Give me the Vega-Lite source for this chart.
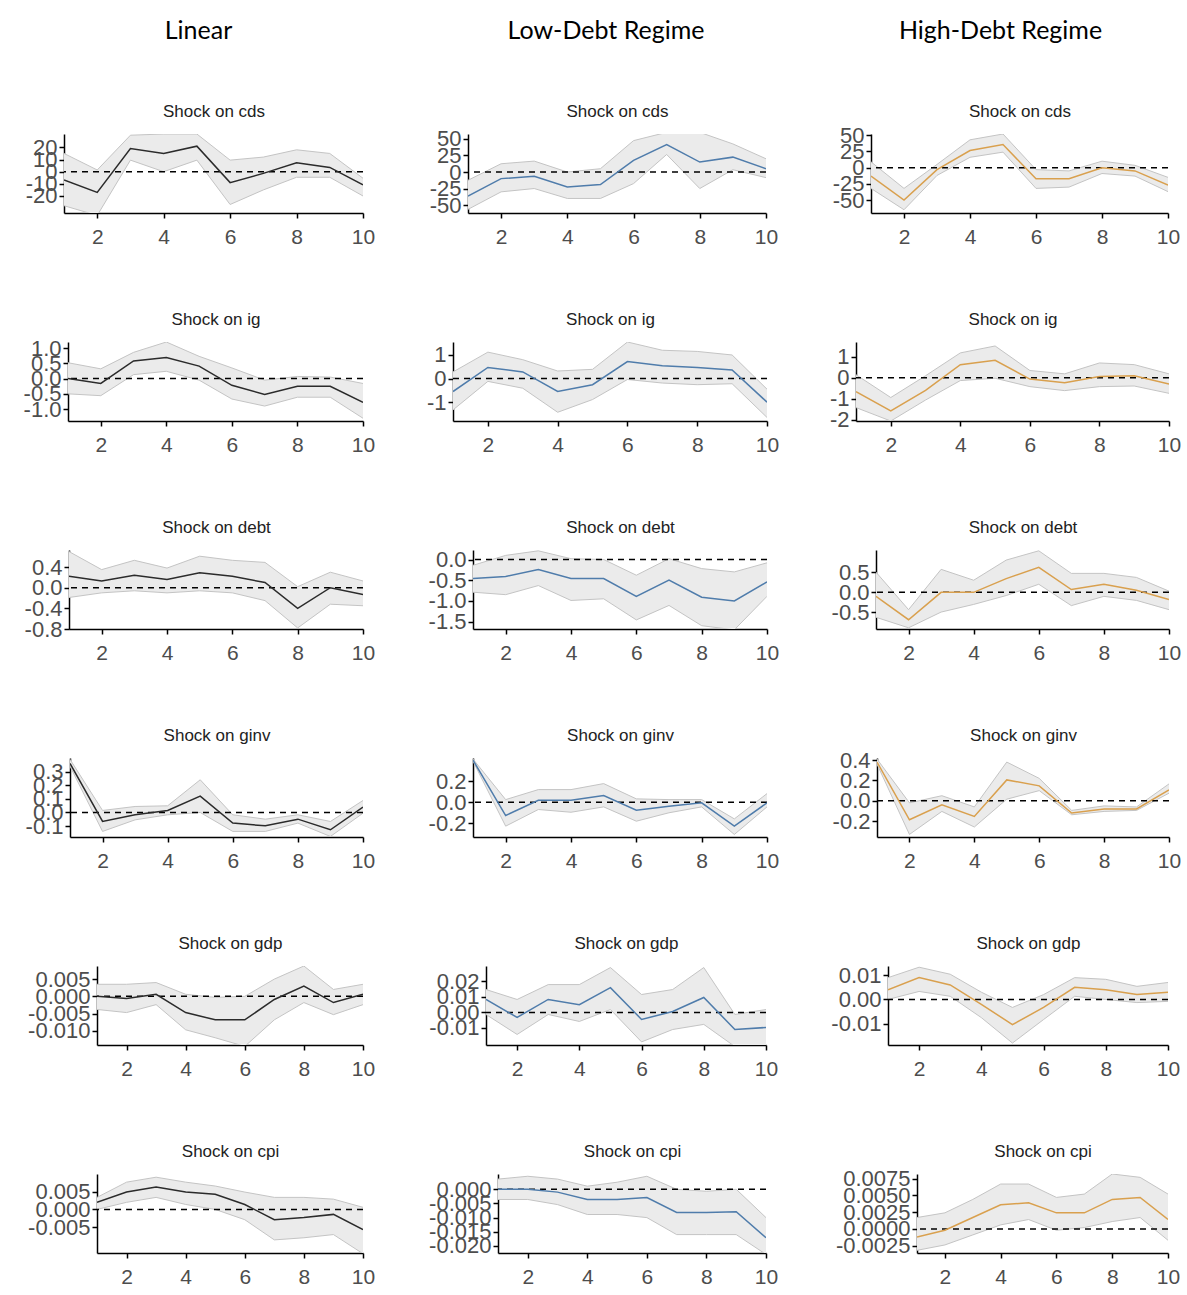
{
"$schema": "https://vega.github.io/schema/vega-lite/v6.json",
"padding": {"left": 0, "top": 19, "right": 5, "bottom": 5},
"background": "white",
"config": {
  "view": {"stroke": null},
  "locale": {"number": {"decimal": ".", "thousands": ",", "grouping": [3], "currency": ["$", ""], "minus": "-"}},
  "axis": {"grid": false, "domainColor": "#000", "domainWidth": 1.5, "tickColor": "#000", "tickWidth": 1.5, "tickSize": 5, "labelFont": "Liberation Sans", "labelColor": "#4d4d4d", "labelFlush": false, "labelBound": false, "labelOverlap": false, "titleFont": "Liberation Sans", "titleFontSize": 17, "titleFontWeight": "normal", "titleColor": "#222", "titlePadding": 14},
  "axisX": {"labelFontSize": 21, "labelPadding": 8},
  "axisY": {"labelFontSize": 22, "labelPadding": 2},
  "title": {"font": "Lato", "fontSize": 25, "fontWeight": "normal", "color": "#000", "anchor": "middle", "frame": "group", "offset": 58}
},
"data": {"values": [
{"p":"L1","h":1,"mid":-6.8,"hi":15,"lo":-28},{"p":"L1","h":2,"mid":-17,"hi":1.4,"lo":-36},{"p":"L1","h":3,"mid":19,"hi":30,"lo":9.5},{"p":"L1","h":4,"mid":15,"hi":31,"lo":0},{"p":"L1","h":5,"mid":21,"hi":31,"lo":9.5},{"p":"L1","h":6,"mid":-9,"hi":9.5,"lo":-27},{"p":"L1","h":7,"mid":-1.4,"hi":12,"lo":-15},{"p":"L1","h":8,"mid":7.3,"hi":18,"lo":-4.6},{"p":"L1","h":9,"mid":3.5,"hi":15,"lo":-4.6},{"p":"L1","h":10,"mid":-10.8,"hi":-5.4,"lo":-20},
{"p":"M1","h":1,"mid":-36.5,"hi":-12.5,"lo":-56.5},{"p":"M1","h":2,"mid":-10,"hi":12.5,"lo":-30},{"p":"M1","h":3,"mid":-6.5,"hi":16.5,"lo":-25},{"p":"M1","h":4,"mid":-22.5,"hi":0,"lo":-40},{"p":"M1","h":5,"mid":-19,"hi":5,"lo":-40},{"p":"M1","h":6,"mid":17.5,"hi":47.5,"lo":-17.5},{"p":"M1","h":7,"mid":41.5,"hi":60,"lo":26.5},{"p":"M1","h":8,"mid":15,"hi":60,"lo":-25},{"p":"M1","h":9,"mid":22.5,"hi":42.5,"lo":3.5},{"p":"M1","h":10,"mid":5,"hi":20,"lo":-8.5},
{"p":"H1","h":1,"mid":-13,"hi":9,"lo":-32},{"p":"H1","h":2,"mid":-50,"hi":-32,"lo":-65},{"p":"H1","h":3,"mid":-3,"hi":5,"lo":-12},{"p":"H1","h":4,"mid":26.5,"hi":43,"lo":16},{"p":"H1","h":5,"mid":35.7,"hi":52,"lo":24},{"p":"H1","h":6,"mid":-17,"hi":-3,"lo":-32},{"p":"H1","h":7,"mid":-17,"hi":-5,"lo":-30},{"p":"H1","h":8,"mid":0,"hi":10,"lo":-9},{"p":"H1","h":9,"mid":-5,"hi":3.6,"lo":-13},{"p":"H1","h":10,"mid":-27,"hi":-15,"lo":-37},
{"p":"L2","h":1,"mid":0,"hi":0.52,"lo":-0.5},{"p":"L2","h":2,"mid":-0.16,"hi":0.32,"lo":-0.56},{"p":"L2","h":3,"mid":0.58,"hi":0.86,"lo":0.13},{"p":"L2","h":4,"mid":0.69,"hi":1.2,"lo":0.24},{"p":"L2","h":5,"mid":0.41,"hi":0.73,"lo":-0.05},{"p":"L2","h":6,"mid":-0.22,"hi":0.35,"lo":-0.67},{"p":"L2","h":7,"mid":-0.52,"hi":-0.05,"lo":-0.9},{"p":"L2","h":8,"mid":-0.25,"hi":0.07,"lo":-0.61},{"p":"L2","h":9,"mid":-0.25,"hi":0.05,"lo":-0.61},{"p":"L2","h":10,"mid":-0.78,"hi":-0.16,"lo":-1.3},
{"p":"M2","h":1,"mid":-0.55,"hi":0.28,"lo":-1.33},{"p":"M2","h":2,"mid":0.47,"hi":1.12,"lo":-0.12},{"p":"M2","h":3,"mid":0.28,"hi":0.8,"lo":-0.41},{"p":"M2","h":4,"mid":-0.55,"hi":0.32,"lo":-1.43},{"p":"M2","h":5,"mid":-0.26,"hi":0.39,"lo":-0.89},{"p":"M2","h":6,"mid":0.72,"hi":1.55,"lo":-0.04},{"p":"M2","h":7,"mid":0.54,"hi":1.2,"lo":-0.19},{"p":"M2","h":8,"mid":0.47,"hi":1.15,"lo":-0.26},{"p":"M2","h":9,"mid":0.36,"hi":1.0,"lo":-0.22},{"p":"M2","h":10,"mid":-1.0,"hi":-0.45,"lo":-1.65},
{"p":"H2","h":1,"mid":-0.66,"hi":0.15,"lo":-1.42},{"p":"H2","h":2,"mid":-1.58,"hi":-0.94,"lo":-2.06},{"p":"H2","h":3,"mid":-0.6,"hi":0.1,"lo":-1.06},{"p":"H2","h":4,"mid":0.63,"hi":1.19,"lo":-0.13},{"p":"H2","h":5,"mid":0.84,"hi":1.52,"lo":-0.02},{"p":"H2","h":6,"mid":-0.06,"hi":0.35,"lo":-0.42},{"p":"H2","h":7,"mid":-0.23,"hi":0.19,"lo":-0.61},{"p":"H2","h":8,"mid":0.06,"hi":0.71,"lo":-0.42},{"p":"H2","h":9,"mid":0.1,"hi":0.63,"lo":-0.39},{"p":"H2","h":10,"mid":-0.29,"hi":0.19,"lo":-0.74},
{"p":"L3","h":1,"mid":0.22,"hi":0.7,"lo":-0.19},{"p":"L3","h":2,"mid":0.13,"hi":0.35,"lo":-0.1},{"p":"L3","h":3,"mid":0.24,"hi":0.53,"lo":-0.06},{"p":"L3","h":4,"mid":0.16,"hi":0.38,"lo":-0.1},{"p":"L3","h":5,"mid":0.29,"hi":0.61,"lo":-0.06},{"p":"L3","h":6,"mid":0.22,"hi":0.53,"lo":-0.1},{"p":"L3","h":7,"mid":0.1,"hi":0.49,"lo":-0.25},{"p":"L3","h":8,"mid":-0.4,"hi":0.02,"lo":-0.78},{"p":"L3","h":9,"mid":0,"hi":0.3,"lo":-0.32},{"p":"L3","h":10,"mid":-0.13,"hi":0.13,"lo":-0.35},
{"p":"M3","h":1,"mid":-0.46,"hi":-0.14,"lo":-0.79},{"p":"M3","h":2,"mid":-0.41,"hi":0.1,"lo":-0.85},{"p":"M3","h":3,"mid":-0.24,"hi":0.21,"lo":-0.63},{"p":"M3","h":4,"mid":-0.46,"hi":0.02,"lo":-0.99},{"p":"M3","h":5,"mid":-0.46,"hi":0,"lo":-0.95},{"p":"M3","h":6,"mid":-0.89,"hi":-0.38,"lo":-1.46},{"p":"M3","h":7,"mid":-0.5,"hi":0.02,"lo":-1.11},{"p":"M3","h":8,"mid":-0.91,"hi":-0.22,"lo":-1.6},{"p":"M3","h":9,"mid":-1.0,"hi":-0.3,"lo":-1.7},{"p":"M3","h":10,"mid":-0.54,"hi":-0.08,"lo":-0.89},
{"p":"H3","h":1,"mid":-0.1,"hi":0.5,"lo":-0.62},{"p":"H3","h":2,"mid":-0.68,"hi":-0.43,"lo":-0.88},{"p":"H3","h":3,"mid":0,"hi":0.57,"lo":-0.49},{"p":"H3","h":4,"mid":0,"hi":0.3,"lo":-0.3},{"p":"H3","h":5,"mid":0.34,"hi":0.8,"lo":-0.08},{"p":"H3","h":6,"mid":0.62,"hi":1.03,"lo":0.2},{"p":"H3","h":7,"mid":0.07,"hi":0.47,"lo":-0.33},{"p":"H3","h":8,"mid":0.2,"hi":0.47,"lo":-0.1},{"p":"H3","h":9,"mid":0.05,"hi":0.37,"lo":-0.2},{"p":"H3","h":10,"mid":-0.18,"hi":0.03,"lo":-0.43},
{"p":"L4","h":1,"mid":0.36,"hi":0.39,"lo":0.34},{"p":"L4","h":2,"mid":-0.066,"hi":0.015,"lo":-0.139},{"p":"L4","h":3,"mid":-0.017,"hi":0.044,"lo":-0.054},{"p":"L4","h":4,"mid":0.015,"hi":0.049,"lo":-0.017},{"p":"L4","h":5,"mid":0.12,"hi":0.24,"lo":0},{"p":"L4","h":6,"mid":-0.078,"hi":-0.017,"lo":-0.139},{"p":"L4","h":7,"mid":-0.098,"hi":-0.049,"lo":-0.139},{"p":"L4","h":8,"mid":-0.049,"hi":-0.017,"lo":-0.078},{"p":"L4","h":9,"mid":-0.127,"hi":-0.066,"lo":-0.176},{"p":"L4","h":10,"mid":0.039,"hi":0.088,"lo":-0.005},
{"p":"M4","h":1,"mid":0.4,"hi":0.41,"lo":0.39},{"p":"M4","h":2,"mid":-0.126,"hi":0.025,"lo":-0.227},{"p":"M4","h":3,"mid":0.019,"hi":0.12,"lo":-0.069},{"p":"M4","h":4,"mid":0.019,"hi":0.12,"lo":-0.095},{"p":"M4","h":5,"mid":0.063,"hi":0.177,"lo":-0.044},{"p":"M4","h":6,"mid":-0.076,"hi":0.032,"lo":-0.18},{"p":"M4","h":7,"mid":-0.038,"hi":0.025,"lo":-0.1},{"p":"M4","h":8,"mid":-0.006,"hi":0.025,"lo":-0.044},{"p":"M4","h":9,"mid":-0.227,"hi":-0.158,"lo":-0.306},{"p":"M4","h":10,"mid":-0.006,"hi":0.082,"lo":-0.044},
{"p":"H4","h":1,"mid":0.38,"hi":0.41,"lo":0.36},{"p":"H4","h":2,"mid":-0.186,"hi":-0.02,"lo":-0.33},{"p":"H4","h":3,"mid":-0.04,"hi":0.05,"lo":-0.104},{"p":"H4","h":4,"mid":-0.153,"hi":-0.06,"lo":-0.257},{"p":"H4","h":5,"mid":0.205,"hi":0.38,"lo":0.016},{"p":"H4","h":6,"mid":0.147,"hi":0.22,"lo":0.1},{"p":"H4","h":7,"mid":-0.12,"hi":-0.094,"lo":-0.137},{"p":"H4","h":8,"mid":-0.08,"hi":-0.05,"lo":-0.104},{"p":"H4","h":9,"mid":-0.08,"hi":-0.06,"lo":-0.094},{"p":"H4","h":10,"mid":0.107,"hi":0.166,"lo":0.075},
{"p":"L5","h":1,"mid":0,"hi":0.0035,"lo":-0.0038},{"p":"L5","h":2,"mid":-0.0006,"hi":0.0035,"lo":-0.0047},{"p":"L5","h":3,"mid":0.0006,"hi":0.004,"lo":-0.0024},{"p":"L5","h":4,"mid":-0.0047,"hi":0.0006,"lo":-0.0097},{"p":"L5","h":5,"mid":-0.0068,"hi":-0.0003,"lo":-0.012},{"p":"L5","h":6,"mid":-0.0068,"hi":0,"lo":-0.0145},{"p":"L5","h":7,"mid":-0.0009,"hi":0.005,"lo":-0.0068},{"p":"L5","h":8,"mid":0.003,"hi":0.0088,"lo":-0.0018},{"p":"L5","h":9,"mid":-0.0018,"hi":0.002,"lo":-0.0053},{"p":"L5","h":10,"mid":0.0006,"hi":0.0035,"lo":-0.0024},
{"p":"M5","h":1,"mid":0.0084,"hi":0.0148,"lo":-0.0013},{"p":"M5","h":2,"mid":-0.0032,"hi":0.0084,"lo":-0.0142},{"p":"M5","h":3,"mid":0.0084,"hi":0.018,"lo":-0.0013},{"p":"M5","h":4,"mid":0.005,"hi":0.018,"lo":-0.0058},{"p":"M5","h":5,"mid":0.016,"hi":0.029,"lo":0.0019},{"p":"M5","h":6,"mid":-0.0045,"hi":0.0116,"lo":-0.019},{"p":"M5","h":7,"mid":0.0006,"hi":0.0148,"lo":-0.011},{"p":"M5","h":8,"mid":0.0097,"hi":0.029,"lo":-0.0077},{"p":"M5","h":9,"mid":-0.011,"hi":-0.0013,"lo":-0.022},{"p":"M5","h":10,"mid":-0.0097,"hi":0.0019,"lo":-0.022},
{"p":"H5","h":1,"mid":0.004,"hi":0.009,"lo":0},{"p":"H5","h":2,"mid":0.009,"hi":0.0133,"lo":0.0033},{"p":"H5","h":3,"mid":0.006,"hi":0.0104,"lo":0.0013},{"p":"H5","h":4,"mid":-0.002,"hi":0.003,"lo":-0.0075},{"p":"H5","h":5,"mid":-0.0104,"hi":-0.0033,"lo":-0.018},{"p":"H5","h":6,"mid":-0.0033,"hi":0.002,"lo":-0.0083},{"p":"H5","h":7,"mid":0.005,"hi":0.009,"lo":0.0013},{"p":"H5","h":8,"mid":0.004,"hi":0.0083,"lo":0},{"p":"H5","h":9,"mid":0.002,"hi":0.0054,"lo":-0.0013},{"p":"H5","h":10,"mid":0.003,"hi":0.007,"lo":-0.0008},
{"p":"L6","h":1,"mid":0.002,"hi":0.0034,"lo":0},{"p":"L6","h":2,"mid":0.0049,"hi":0.0077,"lo":0.002},{"p":"L6","h":3,"mid":0.0063,"hi":0.0091,"lo":0.0034},{"p":"L6","h":4,"mid":0.0049,"hi":0.0077,"lo":0.0014},{"p":"L6","h":5,"mid":0.0043,"hi":0.0066,"lo":0},{"p":"L6","h":6,"mid":0.0014,"hi":0.0049,"lo":-0.0029},{"p":"L6","h":7,"mid":-0.0029,"hi":0.0034,"lo":-0.0086},{"p":"L6","h":8,"mid":-0.0023,"hi":0.0034,"lo":-0.008},{"p":"L6","h":9,"mid":-0.0014,"hi":0.0029,"lo":-0.0071},{"p":"L6","h":10,"mid":-0.0057,"hi":0.0006,"lo":-0.0125},
{"p":"M6","h":1,"mid":0,"hi":0.0036,"lo":-0.0036},{"p":"M6","h":2,"mid":0,"hi":0.0046,"lo":-0.0036},{"p":"M6","h":3,"mid":-0.001,"hi":0.0036,"lo":-0.0054},{"p":"M6","h":4,"mid":-0.0036,"hi":0.0011,"lo":-0.0089},{"p":"M6","h":5,"mid":-0.0036,"hi":0.0025,"lo":-0.0089},{"p":"M6","h":6,"mid":-0.0029,"hi":0.0046,"lo":-0.01},{"p":"M6","h":7,"mid":-0.0082,"hi":0,"lo":-0.016},{"p":"M6","h":8,"mid":-0.0082,"hi":-0.0007,"lo":-0.016},{"p":"M6","h":9,"mid":-0.0079,"hi":0,"lo":-0.016},{"p":"M6","h":10,"mid":-0.0171,"hi":-0.01,"lo":-0.023},
{"p":"H6","h":1,"mid":-0.0012,"hi":0.0017,"lo":-0.0032},{"p":"H6","h":2,"mid":-0.0002,"hi":0.0024,"lo":-0.0024},{"p":"H6","h":3,"mid":0.0017,"hi":0.0044,"lo":-0.0009},{"p":"H6","h":4,"mid":0.0036,"hi":0.0067,"lo":0.0006},{"p":"H6","h":5,"mid":0.0039,"hi":0.0067,"lo":0.0014},{"p":"H6","h":6,"mid":0.0024,"hi":0.0047,"lo":-0.0002},{"p":"H6","h":7,"mid":0.0024,"hi":0.0052,"lo":0.0002},{"p":"H6","h":8,"mid":0.0044,"hi":0.0082,"lo":0.0011},{"p":"H6","h":9,"mid":0.0047,"hi":0.0077,"lo":0.0017},{"p":"H6","h":10,"mid":0.0014,"hi":0.0052,"lo":-0.0017}
]},
"spacing": 63,
"vconcat": [
{"spacing": 0, "hconcat": [
 {"width": 1, "height": 10, "data": {"values": []}, "mark": {"type": "point", "opacity": 0}, "encoding": {}},
 {"title": {"text": "Linear", "dx": -15}, "width": 299, "height": 79, "transform": [{"filter": "datum.p === 'L1'"}], "resolve": {"axis": {"x": "independent", "y": "independent"}}, "layer": [
  {"mark": {"type": "area", "color": "#ebebeb", "clip": true}, "encoding": {"x": {"field": "h", "type": "quantitative", "title": null, "scale": {"domain": [1, 10], "nice": false, "zero": false}, "axis": {"values": [2, 4, 6, 8, 10]}}, "y": {"field": "lo", "type": "quantitative", "title": null, "scale": {"domain": [-34, 31], "nice": false, "zero": false}, "axis": {"orient": "left", "values": [-20, 0, 20], "format": "d", "labelOverlap": false, "minExtent": 63, "maxExtent": 63}}, "y2": {"field": "hi"}}},
  {"mark": {"type": "line", "color": "#c4c4c4", "strokeWidth": 1, "clip": true}, "encoding": {"x": {"field": "h", "type": "quantitative", "axis": null}, "y": {"field": "hi", "type": "quantitative", "title": null, "axis": {"orient": "left", "values": [-10, 10], "format": "d", "domain": false, "labelOverlap": false, "minExtent": 63, "maxExtent": 63}}}},
  {"mark": {"type": "line", "color": "#c4c4c4", "strokeWidth": 1, "clip": true}, "encoding": {"x": {"field": "h", "type": "quantitative", "axis": null}, "y": {"field": "lo", "type": "quantitative", "axis": null}}},
  {"transform": [{"filter": "datum.h === 1"}], "mark": {"type": "rule", "color": "#000", "strokeDash": [6, 5], "strokeWidth": 1.5}, "encoding": {"y": {"datum": 0, "axis": null}}},
  {"mark": {"type": "line", "color": "#2b2b2b", "strokeWidth": 1.5, "clip": true}, "encoding": {"x": {"field": "h", "type": "quantitative", "axis": {"orient": "top", "domain": false, "ticks": false, "labels": false, "title": "Shock on cds", "minExtent": 0, "maxExtent": 0}}, "y": {"field": "mid", "type": "quantitative", "axis": null}}}
 ]},
 {"title": {"text": "Low-Debt Regime", "dx": -11}, "width": 298, "height": 79, "transform": [{"filter": "datum.p === 'M1'"}], "resolve": {"axis": {"x": "independent", "y": "independent"}}, "layer": [
  {"mark": {"type": "area", "color": "#ebebeb", "clip": true}, "encoding": {"x": {"field": "h", "type": "quantitative", "title": null, "scale": {"domain": [1, 10], "nice": false, "zero": false}, "axis": {"values": [2, 4, 6, 8, 10]}}, "y": {"field": "lo", "type": "quantitative", "title": null, "scale": {"domain": [-62, 57.5], "nice": false, "zero": false}, "axis": {"orient": "left", "values": [-50, 0, 50], "format": "d", "labelOverlap": false, "minExtent": 93, "maxExtent": 93}}, "y2": {"field": "hi"}}},
  {"mark": {"type": "line", "color": "#c4c4c4", "strokeWidth": 1, "clip": true}, "encoding": {"x": {"field": "h", "type": "quantitative", "axis": null}, "y": {"field": "hi", "type": "quantitative", "title": null, "axis": {"orient": "left", "values": [-25, 25], "format": "d", "domain": false, "labelOverlap": false, "minExtent": 93, "maxExtent": 93}}}},
  {"mark": {"type": "line", "color": "#c4c4c4", "strokeWidth": 1, "clip": true}, "encoding": {"x": {"field": "h", "type": "quantitative", "axis": null}, "y": {"field": "lo", "type": "quantitative", "axis": null}}},
  {"transform": [{"filter": "datum.h === 1"}], "mark": {"type": "rule", "color": "#000", "strokeDash": [6, 5], "strokeWidth": 1.5}, "encoding": {"y": {"datum": 0, "axis": null}}},
  {"mark": {"type": "line", "color": "#4f7cab", "strokeWidth": 1.5, "clip": true}, "encoding": {"x": {"field": "h", "type": "quantitative", "axis": {"orient": "top", "domain": false, "ticks": false, "labels": false, "title": "Shock on cds", "minExtent": 0, "maxExtent": 0}}, "y": {"field": "mid", "type": "quantitative", "axis": null}}}
 ]},
 {"title": {"text": "High-Debt Regime", "dx": -19}, "width": 297, "height": 79, "transform": [{"filter": "datum.p === 'H1'"}], "resolve": {"axis": {"x": "independent", "y": "independent"}}, "layer": [
  {"mark": {"type": "area", "color": "#ebebeb", "clip": true}, "encoding": {"x": {"field": "h", "type": "quantitative", "title": null, "scale": {"domain": [1, 10], "nice": false, "zero": false}, "axis": {"values": [2, 4, 6, 8, 10]}}, "y": {"field": "lo", "type": "quantitative", "title": null, "scale": {"domain": [-70, 52], "nice": false, "zero": false}, "axis": {"orient": "left", "values": [-50, 0, 50], "format": "d", "labelOverlap": false, "minExtent": 93, "maxExtent": 93}}, "y2": {"field": "hi"}}},
  {"mark": {"type": "line", "color": "#c4c4c4", "strokeWidth": 1, "clip": true}, "encoding": {"x": {"field": "h", "type": "quantitative", "axis": null}, "y": {"field": "hi", "type": "quantitative", "title": null, "axis": {"orient": "left", "values": [-25, 25], "format": "d", "domain": false, "labelOverlap": false, "minExtent": 93, "maxExtent": 93}}}},
  {"mark": {"type": "line", "color": "#c4c4c4", "strokeWidth": 1, "clip": true}, "encoding": {"x": {"field": "h", "type": "quantitative", "axis": null}, "y": {"field": "lo", "type": "quantitative", "axis": null}}},
  {"transform": [{"filter": "datum.h === 1"}], "mark": {"type": "rule", "color": "#000", "strokeDash": [6, 5], "strokeWidth": 1.5}, "encoding": {"y": {"datum": 0, "axis": null}}},
  {"mark": {"type": "line", "color": "#d9a04e", "strokeWidth": 1.5, "clip": true}, "encoding": {"x": {"field": "h", "type": "quantitative", "axis": {"orient": "top", "domain": false, "ticks": false, "labels": false, "title": "Shock on cds", "minExtent": 0, "maxExtent": 0}}, "y": {"field": "mid", "type": "quantitative", "axis": null}}}
 ]}
]},
{"spacing": 0, "hconcat": [
 {"width": 1, "height": 10, "data": {"values": []}, "mark": {"type": "point", "opacity": 0}, "encoding": {}},
 {"width": 295, "height": 79, "transform": [{"filter": "datum.p === 'L2'"}], "resolve": {"axis": {"x": "independent", "y": "independent"}}, "layer": [
  {"mark": {"type": "area", "color": "#ebebeb", "clip": true}, "encoding": {"x": {"field": "h", "type": "quantitative", "title": null, "scale": {"domain": [1, 10], "nice": false, "zero": false}, "axis": {"values": [2, 4, 6, 8, 10]}}, "y": {"field": "lo", "type": "quantitative", "title": null, "scale": {"domain": [-1.39, 1.2], "nice": false, "zero": false}, "axis": {"orient": "left", "values": [-1, 0, 1], "format": ".1f", "labelOverlap": false, "minExtent": 67, "maxExtent": 67}}, "y2": {"field": "hi"}}},
  {"mark": {"type": "line", "color": "#c4c4c4", "strokeWidth": 1, "clip": true}, "encoding": {"x": {"field": "h", "type": "quantitative", "axis": null}, "y": {"field": "hi", "type": "quantitative", "title": null, "axis": {"orient": "left", "values": [-0.5, 0.5], "format": ".1f", "domain": false, "labelOverlap": false, "minExtent": 67, "maxExtent": 67}}}},
  {"mark": {"type": "line", "color": "#c4c4c4", "strokeWidth": 1, "clip": true}, "encoding": {"x": {"field": "h", "type": "quantitative", "axis": null}, "y": {"field": "lo", "type": "quantitative", "axis": null}}},
  {"transform": [{"filter": "datum.h === 1"}], "mark": {"type": "rule", "color": "#000", "strokeDash": [6, 5], "strokeWidth": 1.5}, "encoding": {"y": {"datum": 0, "axis": null}}},
  {"mark": {"type": "line", "color": "#2b2b2b", "strokeWidth": 1.5, "clip": true}, "encoding": {"x": {"field": "h", "type": "quantitative", "axis": {"orient": "top", "domain": false, "ticks": false, "labels": false, "title": "Shock on ig", "minExtent": 0, "maxExtent": 0}}, "y": {"field": "mid", "type": "quantitative", "axis": null}}}
 ]},
 {"width": 314, "height": 79, "transform": [{"filter": "datum.p === 'M2'"}], "resolve": {"axis": {"x": "independent", "y": "independent"}}, "layer": [
  {"mark": {"type": "area", "color": "#ebebeb", "clip": true}, "encoding": {"x": {"field": "h", "type": "quantitative", "title": null, "scale": {"domain": [1, 10], "nice": false, "zero": false}, "axis": {"values": [2, 4, 6, 8, 10]}}, "y": {"field": "lo", "type": "quantitative", "title": null, "scale": {"domain": [-1.8, 1.55], "nice": false, "zero": false}, "axis": {"orient": "left", "values": [-1, 1], "format": "d", "labelOverlap": false, "minExtent": 78, "maxExtent": 78}}, "y2": {"field": "hi"}}},
  {"mark": {"type": "line", "color": "#c4c4c4", "strokeWidth": 1, "clip": true}, "encoding": {"x": {"field": "h", "type": "quantitative", "axis": null}, "y": {"field": "hi", "type": "quantitative", "title": null, "axis": {"orient": "left", "values": [0], "format": "d", "domain": false, "labelOverlap": false, "minExtent": 78, "maxExtent": 78}}}},
  {"mark": {"type": "line", "color": "#c4c4c4", "strokeWidth": 1, "clip": true}, "encoding": {"x": {"field": "h", "type": "quantitative", "axis": null}, "y": {"field": "lo", "type": "quantitative", "axis": null}}},
  {"transform": [{"filter": "datum.h === 1"}], "mark": {"type": "rule", "color": "#000", "strokeDash": [6, 5], "strokeWidth": 1.5}, "encoding": {"y": {"datum": 0, "axis": null}}},
  {"mark": {"type": "line", "color": "#4f7cab", "strokeWidth": 1.5, "clip": true}, "encoding": {"x": {"field": "h", "type": "quantitative", "axis": {"orient": "top", "domain": false, "ticks": false, "labels": false, "title": "Shock on ig", "minExtent": 0, "maxExtent": 0}}, "y": {"field": "mid", "type": "quantitative", "axis": null}}}
 ]},
 {"width": 313, "height": 79, "transform": [{"filter": "datum.p === 'H2'"}], "resolve": {"axis": {"x": "independent", "y": "independent"}}, "layer": [
  {"mark": {"type": "area", "color": "#ebebeb", "clip": true}, "encoding": {"x": {"field": "h", "type": "quantitative", "title": null, "scale": {"domain": [1, 10], "nice": false, "zero": false}, "axis": {"values": [2, 4, 6, 8, 10]}}, "y": {"field": "lo", "type": "quantitative", "title": null, "scale": {"domain": [-2.06, 1.71], "nice": false, "zero": false}, "axis": {"orient": "left", "values": [-2, 0], "format": "d", "labelOverlap": false, "minExtent": 77, "maxExtent": 77}}, "y2": {"field": "hi"}}},
  {"mark": {"type": "line", "color": "#c4c4c4", "strokeWidth": 1, "clip": true}, "encoding": {"x": {"field": "h", "type": "quantitative", "axis": null}, "y": {"field": "hi", "type": "quantitative", "title": null, "axis": {"orient": "left", "values": [-1, 1], "format": "d", "domain": false, "labelOverlap": false, "minExtent": 77, "maxExtent": 77}}}},
  {"mark": {"type": "line", "color": "#c4c4c4", "strokeWidth": 1, "clip": true}, "encoding": {"x": {"field": "h", "type": "quantitative", "axis": null}, "y": {"field": "lo", "type": "quantitative", "axis": null}}},
  {"transform": [{"filter": "datum.h === 1"}], "mark": {"type": "rule", "color": "#000", "strokeDash": [6, 5], "strokeWidth": 1.5}, "encoding": {"y": {"datum": 0, "axis": null}}},
  {"mark": {"type": "line", "color": "#d9a04e", "strokeWidth": 1.5, "clip": true}, "encoding": {"x": {"field": "h", "type": "quantitative", "axis": {"orient": "top", "domain": false, "ticks": false, "labels": false, "title": "Shock on ig", "minExtent": 0, "maxExtent": 0}}, "y": {"field": "mid", "type": "quantitative", "axis": null}}}
 ]}
]},
{"spacing": 0, "hconcat": [
 {"width": 1, "height": 10, "data": {"values": []}, "mark": {"type": "point", "opacity": 0}, "encoding": {}},
 {"width": 294, "height": 79, "transform": [{"filter": "datum.p === 'L3'"}], "resolve": {"axis": {"x": "independent", "y": "independent"}}, "layer": [
  {"mark": {"type": "area", "color": "#ebebeb", "clip": true}, "encoding": {"x": {"field": "h", "type": "quantitative", "title": null, "scale": {"domain": [1, 10], "nice": false, "zero": false}, "axis": {"values": [2, 4, 6, 8, 10]}}, "y": {"field": "lo", "type": "quantitative", "title": null, "scale": {"domain": [-0.8, 0.73], "nice": false, "zero": false}, "axis": {"orient": "left", "values": [-0.8, 0], "format": ".1f", "labelOverlap": false, "minExtent": 68, "maxExtent": 68}}, "y2": {"field": "hi"}}},
  {"mark": {"type": "line", "color": "#c4c4c4", "strokeWidth": 1, "clip": true}, "encoding": {"x": {"field": "h", "type": "quantitative", "axis": null}, "y": {"field": "hi", "type": "quantitative", "title": null, "axis": {"orient": "left", "values": [-0.4, 0.4], "format": ".1f", "domain": false, "labelOverlap": false, "minExtent": 68, "maxExtent": 68}}}},
  {"mark": {"type": "line", "color": "#c4c4c4", "strokeWidth": 1, "clip": true}, "encoding": {"x": {"field": "h", "type": "quantitative", "axis": null}, "y": {"field": "lo", "type": "quantitative", "axis": null}}},
  {"transform": [{"filter": "datum.h === 1"}], "mark": {"type": "rule", "color": "#000", "strokeDash": [6, 5], "strokeWidth": 1.5}, "encoding": {"y": {"datum": 0, "axis": null}}},
  {"mark": {"type": "line", "color": "#2b2b2b", "strokeWidth": 1.5, "clip": true}, "encoding": {"x": {"field": "h", "type": "quantitative", "axis": {"orient": "top", "domain": false, "ticks": false, "labels": false, "title": "Shock on debt", "minExtent": 0, "maxExtent": 0}}, "y": {"field": "mid", "type": "quantitative", "axis": null}}}
 ]},
 {"width": 294, "height": 79, "transform": [{"filter": "datum.p === 'M3'"}], "resolve": {"axis": {"x": "independent", "y": "independent"}}, "layer": [
  {"mark": {"type": "area", "color": "#ebebeb", "clip": true}, "encoding": {"x": {"field": "h", "type": "quantitative", "title": null, "scale": {"domain": [1, 10], "nice": false, "zero": false}, "axis": {"values": [2, 4, 6, 8, 10]}}, "y": {"field": "lo", "type": "quantitative", "title": null, "scale": {"domain": [-1.68, 0.23], "nice": false, "zero": false}, "axis": {"orient": "left", "values": [-1.5, -0.5], "format": ".1f", "labelOverlap": false, "minExtent": 98, "maxExtent": 98}}, "y2": {"field": "hi"}}},
  {"mark": {"type": "line", "color": "#c4c4c4", "strokeWidth": 1, "clip": true}, "encoding": {"x": {"field": "h", "type": "quantitative", "axis": null}, "y": {"field": "hi", "type": "quantitative", "title": null, "axis": {"orient": "left", "values": [-1, 0], "format": ".1f", "domain": false, "labelOverlap": false, "minExtent": 98, "maxExtent": 98}}}},
  {"mark": {"type": "line", "color": "#c4c4c4", "strokeWidth": 1, "clip": true}, "encoding": {"x": {"field": "h", "type": "quantitative", "axis": null}, "y": {"field": "lo", "type": "quantitative", "axis": null}}},
  {"transform": [{"filter": "datum.h === 1"}], "mark": {"type": "rule", "color": "#000", "strokeDash": [6, 5], "strokeWidth": 1.5}, "encoding": {"y": {"datum": 0, "axis": null}}},
  {"mark": {"type": "line", "color": "#4f7cab", "strokeWidth": 1.5, "clip": true}, "encoding": {"x": {"field": "h", "type": "quantitative", "axis": {"orient": "top", "domain": false, "ticks": false, "labels": false, "title": "Shock on debt", "minExtent": 0, "maxExtent": 0}}, "y": {"field": "mid", "type": "quantitative", "axis": null}}}
 ]},
 {"width": 293, "height": 79, "transform": [{"filter": "datum.p === 'H3'"}], "resolve": {"axis": {"x": "independent", "y": "independent"}}, "layer": [
  {"mark": {"type": "area", "color": "#ebebeb", "clip": true}, "encoding": {"x": {"field": "h", "type": "quantitative", "title": null, "scale": {"domain": [1, 10], "nice": false, "zero": false}, "axis": {"values": [2, 4, 6, 8, 10]}}, "y": {"field": "lo", "type": "quantitative", "title": null, "scale": {"domain": [-0.91, 1.05], "nice": false, "zero": false}, "axis": {"orient": "left", "values": [-0.5, 0.5], "format": ".1f", "labelOverlap": false, "minExtent": 97, "maxExtent": 97}}, "y2": {"field": "hi"}}},
  {"mark": {"type": "line", "color": "#c4c4c4", "strokeWidth": 1, "clip": true}, "encoding": {"x": {"field": "h", "type": "quantitative", "axis": null}, "y": {"field": "hi", "type": "quantitative", "title": null, "axis": {"orient": "left", "values": [0], "format": ".1f", "domain": false, "labelOverlap": false, "minExtent": 97, "maxExtent": 97}}}},
  {"mark": {"type": "line", "color": "#c4c4c4", "strokeWidth": 1, "clip": true}, "encoding": {"x": {"field": "h", "type": "quantitative", "axis": null}, "y": {"field": "lo", "type": "quantitative", "axis": null}}},
  {"transform": [{"filter": "datum.h === 1"}], "mark": {"type": "rule", "color": "#000", "strokeDash": [6, 5], "strokeWidth": 1.5}, "encoding": {"y": {"datum": 0, "axis": null}}},
  {"mark": {"type": "line", "color": "#d9a04e", "strokeWidth": 1.5, "clip": true}, "encoding": {"x": {"field": "h", "type": "quantitative", "axis": {"orient": "top", "domain": false, "ticks": false, "labels": false, "title": "Shock on debt", "minExtent": 0, "maxExtent": 0}}, "y": {"field": "mid", "type": "quantitative", "axis": null}}}
 ]}
]},
{"spacing": 0, "hconcat": [
 {"width": 1, "height": 10, "data": {"values": []}, "mark": {"type": "point", "opacity": 0}, "encoding": {}},
 {"width": 293, "height": 79, "transform": [{"filter": "datum.p === 'L4'"}], "resolve": {"axis": {"x": "independent", "y": "independent"}}, "layer": [
  {"mark": {"type": "area", "color": "#ebebeb", "clip": true}, "encoding": {"x": {"field": "h", "type": "quantitative", "title": null, "scale": {"domain": [1, 10], "nice": false, "zero": false}, "axis": {"values": [2, 4, 6, 8, 10]}}, "y": {"field": "lo", "type": "quantitative", "title": null, "scale": {"domain": [-0.18, 0.4], "nice": false, "zero": false}, "axis": {"orient": "left", "values": [-0.1, 0.1, 0.3], "format": ".1f", "labelOverlap": false, "minExtent": 69, "maxExtent": 69}}, "y2": {"field": "hi"}}},
  {"mark": {"type": "line", "color": "#c4c4c4", "strokeWidth": 1, "clip": true}, "encoding": {"x": {"field": "h", "type": "quantitative", "axis": null}, "y": {"field": "hi", "type": "quantitative", "title": null, "axis": {"orient": "left", "values": [0, 0.2], "format": ".1f", "domain": false, "labelOverlap": false, "minExtent": 69, "maxExtent": 69}}}},
  {"mark": {"type": "line", "color": "#c4c4c4", "strokeWidth": 1, "clip": true}, "encoding": {"x": {"field": "h", "type": "quantitative", "axis": null}, "y": {"field": "lo", "type": "quantitative", "axis": null}}},
  {"transform": [{"filter": "datum.h === 1"}], "mark": {"type": "rule", "color": "#000", "strokeDash": [6, 5], "strokeWidth": 1.5}, "encoding": {"y": {"datum": 0, "axis": null}}},
  {"mark": {"type": "line", "color": "#2b2b2b", "strokeWidth": 1.5, "clip": true}, "encoding": {"x": {"field": "h", "type": "quantitative", "axis": {"orient": "top", "domain": false, "ticks": false, "labels": false, "title": "Shock on ginv", "minExtent": 0, "maxExtent": 0}}, "y": {"field": "mid", "type": "quantitative", "axis": null}}}
 ]},
 {"width": 294, "height": 79, "transform": [{"filter": "datum.p === 'M4'"}], "resolve": {"axis": {"x": "independent", "y": "independent"}}, "layer": [
  {"mark": {"type": "area", "color": "#ebebeb", "clip": true}, "encoding": {"x": {"field": "h", "type": "quantitative", "title": null, "scale": {"domain": [1, 10], "nice": false, "zero": false}, "axis": {"values": [2, 4, 6, 8, 10]}}, "y": {"field": "lo", "type": "quantitative", "title": null, "scale": {"domain": [-0.33, 0.42], "nice": false, "zero": false}, "axis": {"orient": "left", "values": [-0.2, 0.2], "format": ".1f", "labelOverlap": false, "minExtent": 98, "maxExtent": 98}}, "y2": {"field": "hi"}}},
  {"mark": {"type": "line", "color": "#c4c4c4", "strokeWidth": 1, "clip": true}, "encoding": {"x": {"field": "h", "type": "quantitative", "axis": null}, "y": {"field": "hi", "type": "quantitative", "title": null, "axis": {"orient": "left", "values": [0], "format": ".1f", "domain": false, "labelOverlap": false, "minExtent": 98, "maxExtent": 98}}}},
  {"mark": {"type": "line", "color": "#c4c4c4", "strokeWidth": 1, "clip": true}, "encoding": {"x": {"field": "h", "type": "quantitative", "axis": null}, "y": {"field": "lo", "type": "quantitative", "axis": null}}},
  {"transform": [{"filter": "datum.h === 1"}], "mark": {"type": "rule", "color": "#000", "strokeDash": [6, 5], "strokeWidth": 1.5}, "encoding": {"y": {"datum": 0, "axis": null}}},
  {"mark": {"type": "line", "color": "#4f7cab", "strokeWidth": 1.5, "clip": true}, "encoding": {"x": {"field": "h", "type": "quantitative", "axis": {"orient": "top", "domain": false, "ticks": false, "labels": false, "title": "Shock on ginv", "minExtent": 0, "maxExtent": 0}}, "y": {"field": "mid", "type": "quantitative", "axis": null}}}
 ]},
 {"width": 292, "height": 79, "transform": [{"filter": "datum.p === 'H4'"}], "resolve": {"axis": {"x": "independent", "y": "independent"}}, "layer": [
  {"mark": {"type": "area", "color": "#ebebeb", "clip": true}, "encoding": {"x": {"field": "h", "type": "quantitative", "title": null, "scale": {"domain": [1, 10], "nice": false, "zero": false}, "axis": {"values": [2, 4, 6, 8, 10]}}, "y": {"field": "lo", "type": "quantitative", "title": null, "scale": {"domain": [-0.355, 0.42], "nice": false, "zero": false}, "axis": {"orient": "left", "values": [-0.2, 0.2], "format": ".1f", "labelOverlap": false, "minExtent": 98, "maxExtent": 98}}, "y2": {"field": "hi"}}},
  {"mark": {"type": "line", "color": "#c4c4c4", "strokeWidth": 1, "clip": true}, "encoding": {"x": {"field": "h", "type": "quantitative", "axis": null}, "y": {"field": "hi", "type": "quantitative", "title": null, "axis": {"orient": "left", "values": [0, 0.4], "format": ".1f", "domain": false, "labelOverlap": false, "minExtent": 98, "maxExtent": 98}}}},
  {"mark": {"type": "line", "color": "#c4c4c4", "strokeWidth": 1, "clip": true}, "encoding": {"x": {"field": "h", "type": "quantitative", "axis": null}, "y": {"field": "lo", "type": "quantitative", "axis": null}}},
  {"transform": [{"filter": "datum.h === 1"}], "mark": {"type": "rule", "color": "#000", "strokeDash": [6, 5], "strokeWidth": 1.5}, "encoding": {"y": {"datum": 0, "axis": null}}},
  {"mark": {"type": "line", "color": "#d9a04e", "strokeWidth": 1.5, "clip": true}, "encoding": {"x": {"field": "h", "type": "quantitative", "axis": {"orient": "top", "domain": false, "ticks": false, "labels": false, "title": "Shock on ginv", "minExtent": 0, "maxExtent": 0}}, "y": {"field": "mid", "type": "quantitative", "axis": null}}}
 ]}
]},
{"spacing": 0, "hconcat": [
 {"width": 1, "height": 10, "data": {"values": []}, "mark": {"type": "point", "opacity": 0}, "encoding": {}},
 {"width": 266, "height": 79, "transform": [{"filter": "datum.p === 'L5'"}], "resolve": {"axis": {"x": "independent", "y": "independent"}}, "layer": [
  {"mark": {"type": "area", "color": "#ebebeb", "clip": true}, "encoding": {"x": {"field": "h", "type": "quantitative", "title": null, "scale": {"domain": [1, 10], "nice": false, "zero": false}, "axis": {"values": [2, 4, 6, 8, 10]}}, "y": {"field": "lo", "type": "quantitative", "title": null, "scale": {"domain": [-0.0141, 0.0088], "nice": false, "zero": false}, "axis": {"orient": "left", "values": [-0.01, 0], "format": ".3f", "labelOverlap": false, "minExtent": 96, "maxExtent": 96}}, "y2": {"field": "hi"}}},
  {"mark": {"type": "line", "color": "#c4c4c4", "strokeWidth": 1, "clip": true}, "encoding": {"x": {"field": "h", "type": "quantitative", "axis": null}, "y": {"field": "hi", "type": "quantitative", "title": null, "axis": {"orient": "left", "values": [-0.005, 0.005], "format": ".3f", "domain": false, "labelOverlap": false, "minExtent": 96, "maxExtent": 96}}}},
  {"mark": {"type": "line", "color": "#c4c4c4", "strokeWidth": 1, "clip": true}, "encoding": {"x": {"field": "h", "type": "quantitative", "axis": null}, "y": {"field": "lo", "type": "quantitative", "axis": null}}},
  {"transform": [{"filter": "datum.h === 1"}], "mark": {"type": "rule", "color": "#000", "strokeDash": [6, 5], "strokeWidth": 1.5}, "encoding": {"y": {"datum": 0, "axis": null}}},
  {"mark": {"type": "line", "color": "#2b2b2b", "strokeWidth": 1.5, "clip": true}, "encoding": {"x": {"field": "h", "type": "quantitative", "axis": {"orient": "top", "domain": false, "ticks": false, "labels": false, "title": "Shock on gdp", "minExtent": 0, "maxExtent": 0}}, "y": {"field": "mid", "type": "quantitative", "axis": null}}}
 ]},
 {"width": 280, "height": 79, "transform": [{"filter": "datum.p === 'M5'"}], "resolve": {"axis": {"x": "independent", "y": "independent"}}, "layer": [
  {"mark": {"type": "area", "color": "#ebebeb", "clip": true}, "encoding": {"x": {"field": "h", "type": "quantitative", "title": null, "scale": {"domain": [1, 10], "nice": false, "zero": false}, "axis": {"values": [2, 4, 6, 8, 10]}}, "y": {"field": "lo", "type": "quantitative", "title": null, "scale": {"domain": [-0.021, 0.03], "nice": false, "zero": false}, "axis": {"orient": "left", "values": [-0.01, 0.01], "format": ".2f", "labelOverlap": false, "minExtent": 111, "maxExtent": 111}}, "y2": {"field": "hi"}}},
  {"mark": {"type": "line", "color": "#c4c4c4", "strokeWidth": 1, "clip": true}, "encoding": {"x": {"field": "h", "type": "quantitative", "axis": null}, "y": {"field": "hi", "type": "quantitative", "title": null, "axis": {"orient": "left", "values": [0, 0.02], "format": ".2f", "domain": false, "labelOverlap": false, "minExtent": 111, "maxExtent": 111}}}},
  {"mark": {"type": "line", "color": "#c4c4c4", "strokeWidth": 1, "clip": true}, "encoding": {"x": {"field": "h", "type": "quantitative", "axis": null}, "y": {"field": "lo", "type": "quantitative", "axis": null}}},
  {"transform": [{"filter": "datum.h === 1"}], "mark": {"type": "rule", "color": "#000", "strokeDash": [6, 5], "strokeWidth": 1.5}, "encoding": {"y": {"datum": 0, "axis": null}}},
  {"mark": {"type": "line", "color": "#4f7cab", "strokeWidth": 1.5, "clip": true}, "encoding": {"x": {"field": "h", "type": "quantitative", "axis": {"orient": "top", "domain": false, "ticks": false, "labels": false, "title": "Shock on gdp", "minExtent": 0, "maxExtent": 0}}, "y": {"field": "mid", "type": "quantitative", "axis": null}}}
 ]},
 {"width": 280, "height": 79, "transform": [{"filter": "datum.p === 'H5'"}], "resolve": {"axis": {"x": "independent", "y": "independent"}}, "layer": [
  {"mark": {"type": "area", "color": "#ebebeb", "clip": true}, "encoding": {"x": {"field": "h", "type": "quantitative", "title": null, "scale": {"domain": [1, 10], "nice": false, "zero": false}, "axis": {"values": [2, 4, 6, 8, 10]}}, "y": {"field": "lo", "type": "quantitative", "title": null, "scale": {"domain": [-0.0188, 0.0138], "nice": false, "zero": false}, "axis": {"orient": "left", "values": [-0.01, 0.01], "format": ".2f", "labelOverlap": false, "minExtent": 110, "maxExtent": 110}}, "y2": {"field": "hi"}}},
  {"mark": {"type": "line", "color": "#c4c4c4", "strokeWidth": 1, "clip": true}, "encoding": {"x": {"field": "h", "type": "quantitative", "axis": null}, "y": {"field": "hi", "type": "quantitative", "title": null, "axis": {"orient": "left", "values": [0], "format": ".2f", "domain": false, "labelOverlap": false, "minExtent": 110, "maxExtent": 110}}}},
  {"mark": {"type": "line", "color": "#c4c4c4", "strokeWidth": 1, "clip": true}, "encoding": {"x": {"field": "h", "type": "quantitative", "axis": null}, "y": {"field": "lo", "type": "quantitative", "axis": null}}},
  {"transform": [{"filter": "datum.h === 1"}], "mark": {"type": "rule", "color": "#000", "strokeDash": [6, 5], "strokeWidth": 1.5}, "encoding": {"y": {"datum": 0, "axis": null}}},
  {"mark": {"type": "line", "color": "#d9a04e", "strokeWidth": 1.5, "clip": true}, "encoding": {"x": {"field": "h", "type": "quantitative", "axis": {"orient": "top", "domain": false, "ticks": false, "labels": false, "title": "Shock on gdp", "minExtent": 0, "maxExtent": 0}}, "y": {"field": "mid", "type": "quantitative", "axis": null}}}
 ]}
]},
{"spacing": 0, "hconcat": [
 {"width": 1, "height": 10, "data": {"values": []}, "mark": {"type": "point", "opacity": 0}, "encoding": {}},
 {"width": 266, "height": 79, "transform": [{"filter": "datum.p === 'L6'"}], "resolve": {"axis": {"x": "independent", "y": "independent"}}, "layer": [
  {"mark": {"type": "area", "color": "#ebebeb", "clip": true}, "encoding": {"x": {"field": "h", "type": "quantitative", "title": null, "scale": {"domain": [1, 10], "nice": false, "zero": false}, "axis": {"values": [2, 4, 6, 8, 10]}}, "y": {"field": "lo", "type": "quantitative", "title": null, "scale": {"domain": [-0.0123, 0.01], "nice": false, "zero": false}, "axis": {"orient": "left", "values": [-0.005, 0.005], "format": ".3f", "labelOverlap": false, "minExtent": 96, "maxExtent": 96}}, "y2": {"field": "hi"}}},
  {"mark": {"type": "line", "color": "#c4c4c4", "strokeWidth": 1, "clip": true}, "encoding": {"x": {"field": "h", "type": "quantitative", "axis": null}, "y": {"field": "hi", "type": "quantitative", "title": null, "axis": {"orient": "left", "values": [0], "format": ".3f", "domain": false, "labelOverlap": false, "minExtent": 96, "maxExtent": 96}}}},
  {"mark": {"type": "line", "color": "#c4c4c4", "strokeWidth": 1, "clip": true}, "encoding": {"x": {"field": "h", "type": "quantitative", "axis": null}, "y": {"field": "lo", "type": "quantitative", "axis": null}}},
  {"transform": [{"filter": "datum.h === 1"}], "mark": {"type": "rule", "color": "#000", "strokeDash": [6, 5], "strokeWidth": 1.5}, "encoding": {"y": {"datum": 0, "axis": null}}},
  {"mark": {"type": "line", "color": "#2b2b2b", "strokeWidth": 1.5, "clip": true}, "encoding": {"x": {"field": "h", "type": "quantitative", "axis": {"orient": "top", "domain": false, "ticks": false, "labels": false, "title": "Shock on cpi", "minExtent": 0, "maxExtent": 0}}, "y": {"field": "mid", "type": "quantitative", "axis": null}}}
 ]},
 {"width": 268, "height": 79, "transform": [{"filter": "datum.p === 'M6'"}], "resolve": {"axis": {"x": "independent", "y": "independent"}}, "layer": [
  {"mark": {"type": "area", "color": "#ebebeb", "clip": true}, "encoding": {"x": {"field": "h", "type": "quantitative", "title": null, "scale": {"domain": [1, 10], "nice": false, "zero": false}, "axis": {"values": [2, 4, 6, 8, 10]}}, "y": {"field": "lo", "type": "quantitative", "title": null, "scale": {"domain": [-0.0225, 0.0054], "nice": false, "zero": false}, "axis": {"orient": "left", "values": [-0.02, -0.01, 0], "format": ".3f", "labelOverlap": false, "minExtent": 123, "maxExtent": 123}}, "y2": {"field": "hi"}}},
  {"mark": {"type": "line", "color": "#c4c4c4", "strokeWidth": 1, "clip": true}, "encoding": {"x": {"field": "h", "type": "quantitative", "axis": null}, "y": {"field": "hi", "type": "quantitative", "title": null, "axis": {"orient": "left", "values": [-0.015, -0.005], "format": ".3f", "domain": false, "labelOverlap": false, "minExtent": 123, "maxExtent": 123}}}},
  {"mark": {"type": "line", "color": "#c4c4c4", "strokeWidth": 1, "clip": true}, "encoding": {"x": {"field": "h", "type": "quantitative", "axis": null}, "y": {"field": "lo", "type": "quantitative", "axis": null}}},
  {"transform": [{"filter": "datum.h === 1"}], "mark": {"type": "rule", "color": "#000", "strokeDash": [6, 5], "strokeWidth": 1.5}, "encoding": {"y": {"datum": 0, "axis": null}}},
  {"mark": {"type": "line", "color": "#4f7cab", "strokeWidth": 1.5, "clip": true}, "encoding": {"x": {"field": "h", "type": "quantitative", "axis": {"orient": "top", "domain": false, "ticks": false, "labels": false, "title": "Shock on cpi", "minExtent": 0, "maxExtent": 0}}, "y": {"field": "mid", "type": "quantitative", "axis": null}}}
 ]},
 {"width": 251, "height": 79, "transform": [{"filter": "datum.p === 'H6'"}], "resolve": {"axis": {"x": "independent", "y": "independent"}}, "layer": [
  {"mark": {"type": "area", "color": "#ebebeb", "clip": true}, "encoding": {"x": {"field": "h", "type": "quantitative", "title": null, "scale": {"domain": [1, 10], "nice": false, "zero": false}, "axis": {"values": [2, 4, 6, 8, 10]}}, "y": {"field": "lo", "type": "quantitative", "title": null, "scale": {"domain": [-0.0036, 0.0082], "nice": false, "zero": false}, "axis": {"orient": "left", "values": [-0.0025, 0.0025, 0.0075], "format": ".4f", "labelOverlap": false, "minExtent": 139, "maxExtent": 139}}, "y2": {"field": "hi"}}},
  {"mark": {"type": "line", "color": "#c4c4c4", "strokeWidth": 1, "clip": true}, "encoding": {"x": {"field": "h", "type": "quantitative", "axis": null}, "y": {"field": "hi", "type": "quantitative", "title": null, "axis": {"orient": "left", "values": [0, 0.005], "format": ".4f", "domain": false, "labelOverlap": false, "minExtent": 139, "maxExtent": 139}}}},
  {"mark": {"type": "line", "color": "#c4c4c4", "strokeWidth": 1, "clip": true}, "encoding": {"x": {"field": "h", "type": "quantitative", "axis": null}, "y": {"field": "lo", "type": "quantitative", "axis": null}}},
  {"transform": [{"filter": "datum.h === 1"}], "mark": {"type": "rule", "color": "#000", "strokeDash": [6, 5], "strokeWidth": 1.5}, "encoding": {"y": {"datum": 0, "axis": null}}},
  {"mark": {"type": "line", "color": "#d9a04e", "strokeWidth": 1.5, "clip": true}, "encoding": {"x": {"field": "h", "type": "quantitative", "axis": {"orient": "top", "domain": false, "ticks": false, "labels": false, "title": "Shock on cpi", "minExtent": 0, "maxExtent": 0}}, "y": {"field": "mid", "type": "quantitative", "axis": null}}}
 ]}
]}
]
}
